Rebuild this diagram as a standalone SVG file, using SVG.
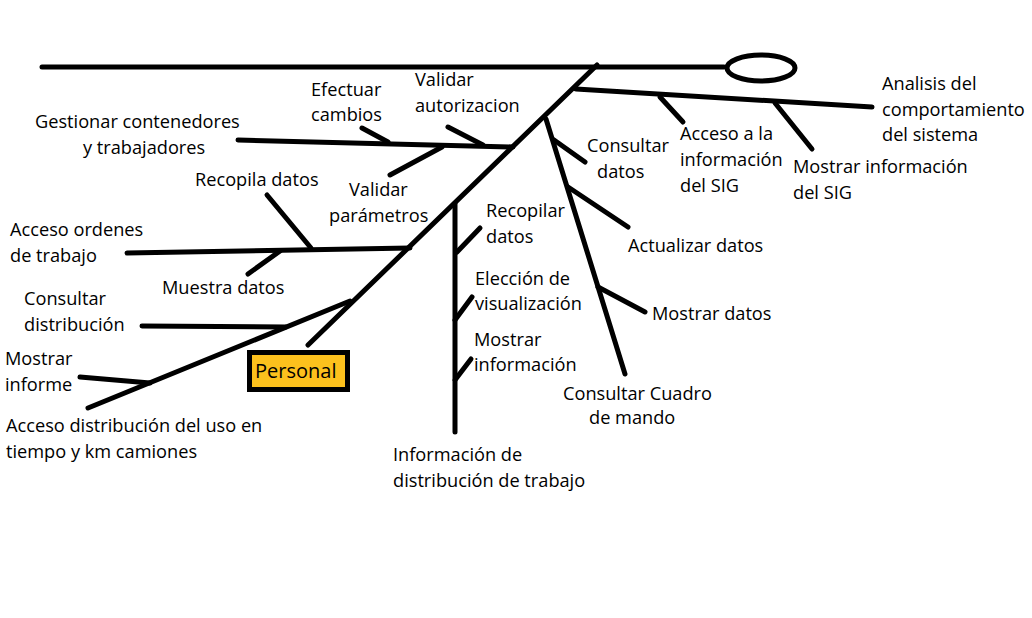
<svg xmlns="http://www.w3.org/2000/svg" width="1032" height="618" viewBox="0 0 1032 618">
<style>
.l{stroke:#000;stroke-width:5;stroke-linecap:round;fill:none}
.t{font-family:"Open Sans","Noto Sans","DejaVu Sans",sans-serif;font-size:18.2px;fill:#000}
</style>
<rect width="1032" height="618" fill="#fff"/>
<g id="connectors">
<line class="l" x1="42" y1="67" x2="724" y2="67"/>
<path class="l" d="M597,65 L308,345"/>
<path class="l" d="M350,301 L88,408"/>
<line class="l" x1="576" y1="89" x2="872" y2="107"/>
<line class="l" x1="660" y1="97" x2="683" y2="122"/>
<line class="l" x1="775" y1="103" x2="812" y2="149"/>
<line class="l" x1="546" y1="119" x2="625" y2="374"/>
<line class="l" x1="554" y1="140" x2="585" y2="162"/>
<line class="l" x1="568" y1="187" x2="628" y2="227"/>
<line class="l" x1="598" y1="287" x2="645" y2="312"/>
<line class="l" x1="455" y1="204" x2="455" y2="432"/>
<line class="l" x1="457" y1="252" x2="480" y2="228"/>
<line class="l" x1="455" y1="320" x2="472" y2="297"/>
<line class="l" x1="455" y1="380" x2="471" y2="359"/>
<line class="l" x1="238" y1="140" x2="513" y2="147"/>
<line class="l" x1="362" y1="128" x2="388" y2="142"/>
<line class="l" x1="448" y1="127" x2="483" y2="145"/>
<line class="l" x1="390" y1="175" x2="442" y2="147"/>
<line class="l" x1="127" y1="253" x2="410" y2="248"/>
<line class="l" x1="267" y1="195" x2="311" y2="248"/>
<line class="l" x1="248" y1="274" x2="280" y2="251"/>
<line class="l" x1="142" y1="326" x2="286" y2="327"/>
<line class="l" x1="80" y1="377" x2="150" y2="383"/>
</g>
<g id="head"><ellipse cx="761" cy="68" rx="34" ry="13" class="l"/></g>
<g id="personal">
<rect x="249.5" y="352.5" width="98" height="37" fill="#fcc11d" stroke="#000" stroke-width="5"/>
<text class="t" x="255" y="378" style="font-size:20px">Personal</text>
</g>
<g id="n-gestionar"><text class="t" x="35" y="128">Gestionar contenedores</text><text class="t" x="83" y="154">y trabajadores</text></g>
<g id="n-efectuar"><text class="t" x="311" y="96">Efectuar</text><text class="t" x="311" y="121">cambios</text></g>
<g id="n-validar-aut"><text class="t" x="415" y="86">Validar</text><text class="t" x="415" y="112">autorizacion</text></g>
<g id="n-recopila"><text class="t" x="195" y="186">Recopila datos</text></g>
<g id="n-validar-par"><text class="t" x="349" y="196">Validar</text><text class="t" x="329" y="222">parámetros</text></g>
<g id="n-acceso-ord"><text class="t" x="10" y="236">Acceso ordenes</text><text class="t" x="10" y="262">de trabajo</text></g>
<g id="n-muestra"><text class="t" x="162" y="294">Muestra datos</text></g>
<g id="n-consultar-dist"><text class="t" x="24" y="305">Consultar</text><text class="t" x="24" y="331">distribución</text></g>
<g id="n-mostrar-inf"><text class="t" x="5" y="365">Mostrar</text><text class="t" x="5" y="391">informe</text></g>
<g id="n-acceso-dist"><text class="t" x="6" y="432">Acceso distribución del uso en</text><text class="t" x="6" y="458">tiempo y km camiones</text></g>
<g id="n-recopilar"><text class="t" x="486" y="217">Recopilar</text><text class="t" x="486" y="243">datos</text></g>
<g id="n-eleccion"><text class="t" x="475" y="285">Elección de</text><text class="t" x="475" y="310">visualización</text></g>
<g id="n-mostrar-info"><text class="t" x="474" y="346">Mostrar</text><text class="t" x="474" y="371">información</text></g>
<g id="n-info-dist"><text class="t" x="393" y="461">Información de</text><text class="t" x="393" y="487">distribución de trabajo</text></g>
<g id="n-cuadro"><text class="t" x="563" y="400">Consultar Cuadro</text><text class="t" x="589" y="424">de mando</text></g>
<g id="n-consultar-datos"><text class="t" x="587" y="152">Consultar</text><text class="t" x="597" y="178">datos</text></g>
<g id="n-acceso-sig"><text class="t" x="680" y="140">Acceso a la</text><text class="t" x="680" y="166">información</text><text class="t" x="680" y="192">del SIG</text></g>
<g id="n-mostrar-sig"><text class="t" x="793" y="173">Mostrar información</text><text class="t" x="793" y="199">del SIG</text></g>
<g id="n-analisis"><text class="t" x="882" y="90">Analisis del</text><text class="t" x="882" y="116">comportamiento</text><text class="t" x="882" y="141">del sistema</text></g>
<g id="n-actualizar"><text class="t" x="628" y="252">Actualizar datos</text></g>
<g id="n-mostrar-datos"><text class="t" x="652" y="320">Mostrar datos</text></g>
</svg>
